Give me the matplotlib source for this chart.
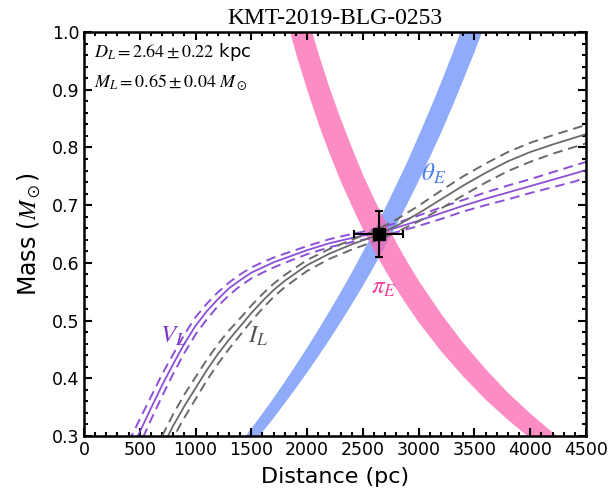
import numpy as np
import matplotlib
matplotlib.use('Agg')
import matplotlib.pyplot as plt
from matplotlib.ticker import MultipleLocator

plt.rcParams['mathtext.fontset'] = 'stix'
plt.rcParams['font.family'] = ['DejaVu Sans']

# pi_E band (pink), lens distance in pc vs mass limits
piE_dist = [1800, 1900, 2000, 2100, 2200, 2300, 2400, 2500, 2600, 2700, 2800, 2900,
            3000, 3200, 3400, 3600, 3800, 4000, 4200, 4400]
piE_low = [1.034, 0.963, 0.900, 0.842, 0.790, 0.742, 0.699, 0.658, 0.621, 0.587, 0.555, 0.525,
           0.497, 0.447, 0.403, 0.363, 0.328, 0.296, 0.267, 0.241]
piE_high = [1.184, 1.103, 1.030, 0.964, 0.904, 0.850, 0.800, 0.753, 0.711, 0.672, 0.635, 0.601,
            0.569, 0.512, 0.461, 0.416, 0.375, 0.339, 0.306, 0.276]

# theta_E band (blue)
thE_dist = [1400, 1500, 1600, 1700, 1800, 1900, 2000, 2100, 2200, 2300, 2400, 2500,
            2600, 2700, 2800, 2900, 3000, 3100, 3200, 3300, 3400, 3500, 3600]
thE_low = [0.260, 0.283, 0.307, 0.331, 0.357, 0.383, 0.410, 0.438, 0.467, 0.497, 0.528, 0.560,
           0.594, 0.629, 0.665, 0.703, 0.742, 0.783, 0.825, 0.870, 0.917, 0.965, 1.016]
thE_high = [0.2875, 0.313, 0.339, 0.366, 0.394, 0.423, 0.453, 0.484, 0.516, 0.549, 0.583, 0.619,
            0.656, 0.695, 0.735, 0.776, 0.820, 0.865, 0.912, 0.961, 1.013, 1.066, 1.122]

# V_L constraint (purple)
V_dist = [400, 500, 600, 700, 800, 900, 1000, 1100, 1200, 1300, 1400, 1500, 1600, 1700,
          1800, 2000, 2200, 2400, 2600, 2800, 3000, 3200, 3400, 3600, 3800, 4000, 4200,
          4400, 4500]
V_mid = [0.27, 0.307, 0.348, 0.388, 0.425, 0.460, 0.491, 0.516, 0.537, 0.556, 0.570, 0.583,
         0.592, 0.601, 0.608, 0.622, 0.634, 0.643, 0.651, 0.661, 0.673, 0.686, 0.699, 0.711,
         0.722, 0.733, 0.744, 0.755, 0.761]
V_up = [0.29, 0.329, 0.368, 0.407, 0.442, 0.476, 0.506, 0.529, 0.549, 0.566, 0.580, 0.592,
        0.601, 0.609, 0.616, 0.629, 0.641, 0.650, 0.658, 0.669, 0.682, 0.696, 0.709, 0.722,
        0.734, 0.745, 0.757, 0.769, 0.775]
V_lo = [0.25, 0.285, 0.328, 0.369, 0.408, 0.444, 0.476, 0.502, 0.525, 0.544, 0.560, 0.573,
        0.583, 0.592, 0.600, 0.615, 0.627, 0.636, 0.644, 0.653, 0.664, 0.676, 0.689, 0.700,
        0.710, 0.721, 0.731, 0.741, 0.748]

# I_L constraint (gray)
I_dist = [700, 800, 900, 1000, 1100, 1200, 1300, 1400, 1500, 1600, 1700, 1800, 2000, 2200,
          2400, 2600, 2800, 3000, 3200, 3400, 3600, 3800, 4000, 4200, 4400, 4500]
I_mid = [0.28, 0.318, 0.352, 0.383, 0.414, 0.442, 0.467, 0.490, 0.513, 0.534, 0.553, 0.569,
         0.596, 0.616, 0.632, 0.646, 0.664, 0.686, 0.710, 0.734, 0.756, 0.776, 0.792, 0.805,
         0.817, 0.823]
I_up = [0.30, 0.338, 0.372, 0.402, 0.432, 0.459, 0.483, 0.504, 0.526, 0.546, 0.564, 0.579,
        0.605, 0.624, 0.640, 0.655, 0.675, 0.699, 0.725, 0.750, 0.772, 0.792, 0.808, 0.821,
        0.833, 0.839]
I_lo = [0.26, 0.297, 0.332, 0.364, 0.396, 0.425, 0.451, 0.475, 0.499, 0.521, 0.541, 0.558,
        0.586, 0.607, 0.623, 0.637, 0.653, 0.672, 0.694, 0.717, 0.739, 0.759, 0.775, 0.789,
        0.801, 0.807]

# best solution
D_L, D_err = 2640, 220
M_L, M_err = 0.65, 0.04

fig = plt.figure(figsize=(6.1, 4.92), dpi=100)
ax = fig.add_axes([0.1377, 0.1138, 0.823, 0.8212])

ax.fill_between(thE_dist, thE_low, thE_high, color='#6a8ff8', alpha=0.75, lw=0)
ax.fill_between(piE_dist, piE_low, piE_high, color='#fc66b0', alpha=0.75, lw=0)

purple = '#8e4fd8'
gray = '#6a6a6a'
ax.plot(V_dist, V_mid, color=purple, lw=1.3)
ax.plot(V_dist, V_up, color=purple, lw=1.4, ls=(0, (5, 3)))
ax.plot(V_dist, V_lo, color=purple, lw=1.4, ls=(0, (5, 3)))
ax.plot(I_dist, I_mid, color=gray, lw=1.3)
ax.plot(I_dist, I_up, color=gray, lw=1.4, ls=(0, (5, 3)))
ax.plot(I_dist, I_lo, color=gray, lw=1.4, ls=(0, (5, 3)))

ax.errorbar(D_L, M_L, xerr=D_err, yerr=M_err, fmt='s', color='black', ms=8,
            elinewidth=1.5, capsize=3, capthick=1.5, zorder=5)

ax.text(800, 0.473, r'$V_L$', color='#7b35c8', fontsize=18, ha='center', va='center')
ax.text(1560, 0.473, r'$I_L$', color='#555555', fontsize=18, ha='center', va='center')
ax.text(3137, 0.754, r'$\theta_E$', color='#4a7ef0', fontsize=18, ha='center', va='center')
ax.text(2690, 0.558, r'$\pi_E$', color='#f5409c', fontsize=18, ha='center', va='center')

ax.text(0.02, 0.950, r'$D_L = 2.64 \pm 0.22$ kpc', transform=ax.transAxes,
        fontsize=13, va='center')
ax.text(0.02, 0.876, r'$M_L = 0.65 \pm 0.04\ M_\odot$', transform=ax.transAxes,
        fontsize=13, va='center')

ax.set_xlim(0, 4500)
ax.set_ylim(0.3, 1.0)
ax.xaxis.set_major_locator(MultipleLocator(500))
ax.xaxis.set_minor_locator(MultipleLocator(100))
ax.yaxis.set_major_locator(MultipleLocator(0.1))
ax.yaxis.set_minor_locator(MultipleLocator(0.02))
ax.tick_params(which='both', direction='in', top=True, right=True, width=1.5, labelsize=12.5)
ax.tick_params(which='major', length=6)
ax.tick_params(which='minor', length=3)
for s in ax.spines.values():
    s.set_linewidth(1.8)

ax.set_xlabel('Distance (pc)', fontsize=16, labelpad=6)
ax.set_ylabel(r'Mass ($M_\odot$)', fontsize=17, labelpad=6)
ax.set_title('KMT-2019-BLG-0253', fontsize=17, family='Liberation Serif', pad=6)

fig.savefig('out.png', dpi=100)
